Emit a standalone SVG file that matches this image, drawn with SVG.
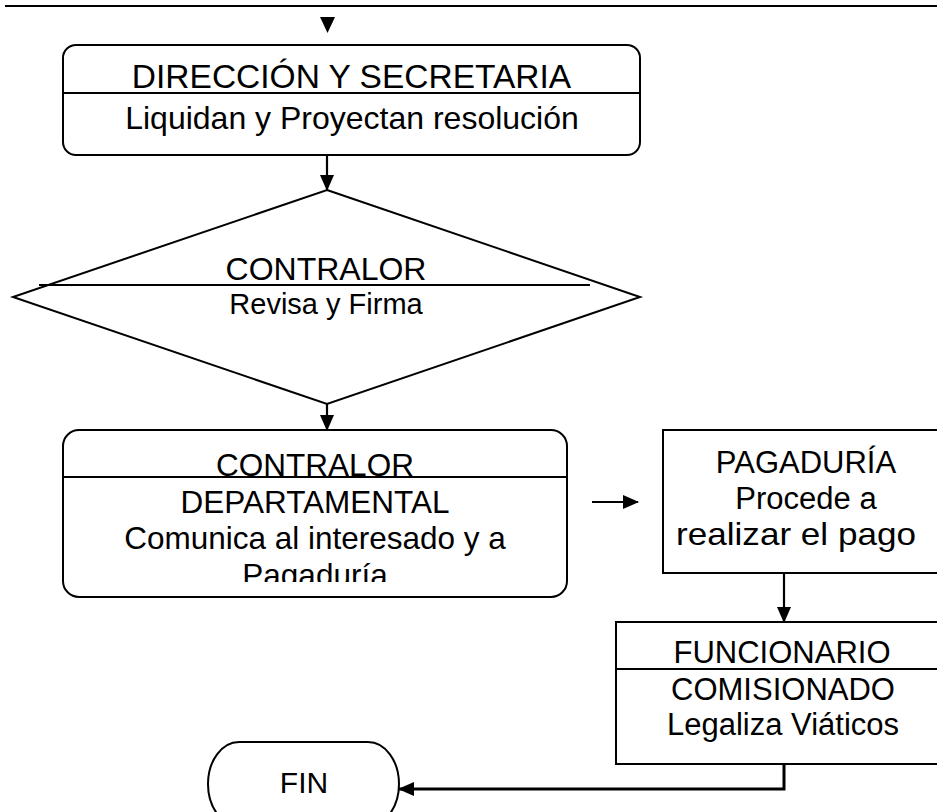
<svg xmlns="http://www.w3.org/2000/svg" width="937" height="812" viewBox="0 0 937 812">
  <style>
    .shape { fill: #ffffff; stroke: #000000; stroke-width: 2; }
    .rule { stroke: #000000; stroke-width: 2; fill: none; }
    .conn { stroke: #000000; stroke-width: 2.2; fill: none; }
    text { font-family: "Liberation Sans", Arial, sans-serif; fill: #000000; text-anchor: middle; font-size: 31px; }
  </style>
  <defs>
    <marker id="arrow" markerUnits="userSpaceOnUse" markerWidth="16" markerHeight="14" refX="15" refY="7" orient="auto">
      <path d="M0,0 L16,7 L0,14 Z" fill="#000000"/>
    </marker>
    <clipPath id="clip-contralor-dep">
      <rect x="63" y="478" width="504" height="104"/>
    </clipPath>
  </defs>

  <rect width="937" height="812" fill="#ffffff"/>

  <!-- header rule and incoming arrowhead -->
  <g id="header">
    <line class="rule" x1="5" y1="6" x2="937" y2="6"/>
    <path d="M320,17 L335,17 L327.5,33 Z" fill="#000000"/>
  </g>

  <g id="direccion">
    <rect class="shape" x="63" y="45" width="577" height="110" rx="13" ry="13"/>
    <line class="rule" x1="63" y1="93" x2="640" y2="93"/>
    <text x="351.5" y="88" style="font-size:33.5px">DIRECCIÓN Y SECRETARIA</text>
    <text x="352" y="129" style="font-size:32px">Liquidan y Proyectan resolución</text>
  </g>

  <g id="contralor-revisa">
    <polygon class="shape" points="327,190 640,297 327,404 13,297"/>
    <line class="rule" x1="39" y1="285" x2="590" y2="285"/>
    <text x="326" y="280" style="font-size:32px">CONTRALOR</text>
    <text x="326" y="314" style="font-size:29px">Revisa y Firma</text>
  </g>

  <g id="contralor-departamental">
    <rect class="shape" x="63" y="430" width="504" height="167" rx="16" ry="16"/>
    <text x="315" y="476" style="font-size:31.5px">CONTRALOR</text>
    <line class="rule" x1="63" y1="477" x2="567" y2="477"/>
    <g clip-path="url(#clip-contralor-dep)">
      <text x="315" y="513" style="font-size:31.5px">DEPARTAMENTAL</text>
      <text x="315" y="549" style="font-size:31.5px">Comunica al interesado y a</text>
      <text x="315" y="586" style="font-size:31.5px">Pagaduría</text>
    </g>
  </g>

  <g id="pagaduria">
    <rect class="shape" x="663" y="430" width="290" height="143"/>
    <text x="806" y="473">PAGADURÍA</text>
    <text x="806" y="509">Procede a</text>
    <text x="796" y="545" style="font-size:32px" textLength="240" lengthAdjust="spacingAndGlyphs">realizar el pago</text>
  </g>

  <g id="funcionario">
    <rect class="shape" x="616" y="622" width="340" height="142"/>
    <line class="rule" x1="616" y1="669" x2="937" y2="669"/>
    <text x="782" y="663">FUNCIONARIO</text>
    <text x="783" y="700">COMISIONADO</text>
    <text x="783" y="735">Legaliza Viáticos</text>
  </g>

  <!-- terminator: elliptical ends, straight top -->
  <g id="fin">
    <rect class="shape" x="208" y="742" width="191" height="84" rx="31" ry="42"/>
    <text x="304" y="793" style="font-size:30px">FIN</text>
  </g>

  <g id="connectors">
    <line class="conn" x1="327" y1="155" x2="327" y2="190" marker-end="url(#arrow)"/>
    <line class="conn" x1="327" y1="404" x2="327" y2="430" marker-end="url(#arrow)"/>
    <line class="conn" x1="592" y1="502" x2="638" y2="502" marker-end="url(#arrow)"/>
    <line class="conn" x1="784" y1="573" x2="784" y2="622" marker-end="url(#arrow)"/>
    <polyline class="conn" points="784,764 784,789 399,789" style="stroke-width:3" marker-end="url(#arrow)"/>
  </g>
</svg>
